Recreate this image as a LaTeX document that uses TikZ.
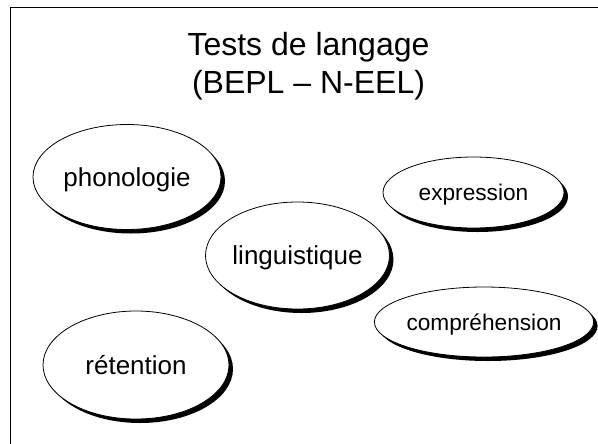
\documentclass[tikz,border=0pt]{standalone}
\usepackage{fontspec}
\setmainfont{Liberation Sans}
\usetikzlibrary{shapes.geometric,shadows}

\tikzset{every picture/.style={line width=0.75pt}}
\tikzset{
  oval/.style={ellipse, draw, fill=white, inner sep=0pt, line width=0.6pt, text depth=0pt,
    general shadow={fill=black, shadow xshift=3pt, shadow yshift=-3pt}},
  big/.style={font=\fontsize{19.5}{23}\selectfont},
  small/.style={font=\fontsize{17}{20}\selectfont},
}

\begin{document}
\begin{tikzpicture}[x=0.75pt,y=0.75pt,yscale=-1,xscale=1]
\useasboundingbox (0,0) rectangle (598,443);

%Shape: Frame
\draw (10,460) -- (10,7) -- (615,7) ;

% Text Node
\node (titre) at (308.5,66) [align=center, font=\fontsize{24}{28.5}\selectfont] {Tests de langage\\(BEPL -- N-EEL)};

%Shape: Ellipse
\node (phono) at (127,177) [oval, big, minimum width=141pt, minimum height=78.75pt] {phonologie};
%Shape: Ellipse
\node (ling) at (297.5,255.5) [oval, big, minimum width=137.25pt, minimum height=80.25pt] {linguistique};
%Shape: Ellipse
\node (expr) at (473.5,192.5) [oval, small, minimum width=135.75pt, minimum height=53.25pt] {expression};
%Shape: Ellipse
\node (compr) at (484,322) [oval, small, minimum width=135pt, minimum height=52.5pt] {compréhension};
%Shape: Ellipse
\node (reten) at (136,365) [oval, big, minimum width=139.5pt, minimum height=81pt] {rétention};

\end{tikzpicture}
\end{document}
